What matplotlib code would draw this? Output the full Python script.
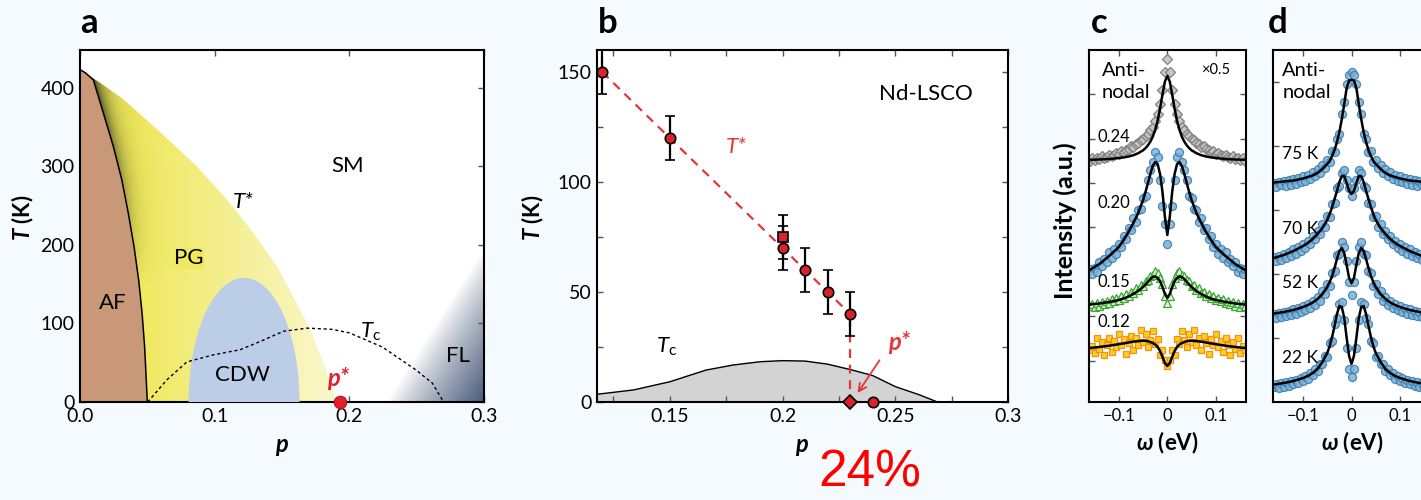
import numpy as np
import matplotlib
matplotlib.use("Agg")
import matplotlib.pyplot as plt
from matplotlib.patches import Polygon, Ellipse

plt.rcParams['font.family'] = ['Lato', 'DejaVu Sans']
plt.rcParams['mathtext.fontset'] = 'custom'
plt.rcParams['mathtext.rm'] = 'Lato'
plt.rcParams['mathtext.it'] = 'Lato:italic'
plt.rcParams['mathtext.bf'] = 'Lato:bold'
plt.rcParams['mathtext.bfit'] = 'Lato:bold:italic'

# ---- panel a: phase diagram boundaries (p, T in K)
af_p = [0.0, 0.004, 0.0099, 0.0173, 0.0248, 0.031, 0.0359, 0.0401, 0.0436, 0.0461, 0.048, 0.050]
af_T = [423, 419, 410, 368, 325, 283, 240, 198, 155, 113, 70, 0]
tstar_p = [0.0, 0.016, 0.0325, 0.0605, 0.0867, 0.109, 0.1288, 0.1461, 0.1597, 0.1721, 0.182, 0.1905]
tstar_T = [423, 405, 385, 342, 300, 258, 215, 173, 130, 88, 45, 0]
tc_p = [0.0503, 0.0644, 0.0793, 0.099, 0.1189, 0.1338, 0.151, 0.1687, 0.1872, 0.2, 0.2245, 0.2493, 0.2617, 0.2700]
tc_T = [0, 28, 51, 60, 66.5, 77, 90, 94, 92.5, 88, 70, 41, 24, 0]
cdw_center, cdw_halfwidth, cdw_top = 0.1218, 0.0412, 158
pstar_a = 0.193

# ---- panel b: Nd-LSCO T* points
b_p = [0.12, 0.15, 0.20, 0.21, 0.22, 0.23]
b_T = [150, 120, 70, 60, 50, 40]
b_err = [10, 10, 10, 10, 10, 10]
sq_p, sq_T, sq_err = [0.20], [75], [10]
b_line_p, b_line_T = [0.12, 0.23], [150, 40]
b_drop_p, b_drop_T = [0.23, 0.23], [38, 0]
diamond_p, dot_p = [0.23], [0.24]
tcb_p = [0.1177, 0.134, 0.15, 0.166, 0.178, 0.19, 0.2, 0.21, 0.22, 0.231, 0.24, 0.25, 0.2606, 0.2687]
tcb_T = [3.5, 5.5, 9.2, 14.5, 16.8, 18.3, 18.8, 18.6, 17.2, 14.5, 12, 7, 3.3, 0]

# ---- panels c, d: symmetrized spectra (omega >= 0 half; mirrored about 0)
w_fit = [0, .005, .01, .015, .02, .025, .03, .035, .04, .045, .05, .06, .07, .08, .09, .10, .12, .14, .16]
c024_fit = [326, 320.5, 307.6, 293.4, 281.3, 272.1, 265.3, 260.4, 256.7, 253.9, 251.7, 248.8, 246.8, 245.5, 244.6, 244, 243, 242.5, 242.2]
c020_fit = [167, 185, 210, 228, 238, 240, 236, 228, 219, 210, 202, 189, 179, 170, 162, 155, 146, 138, 132]
c015_fit = [104, 108, 115, 121, 124, 125.5, 125, 123, 120, 117.5, 115, 111, 108, 105.5, 103.5, 102, 100, 98.5, 97.5]
c012_fit = [36, 39, 45, 51, 55, 57.5, 59, 60, 60.8, 61.2, 61.3, 61, 60.3, 59.5, 58.6, 57.8, 56.3, 55, 54]
d75_fit = [322, 321.5, 314, 298, 283, 270, 260, 252, 246, 241, 238, 233, 229, 226.5, 225, 223.5, 221.5, 220.5, 219.5]
d70_fit = [208, 211, 219, 226, 226, 220, 211, 203, 195, 188, 182, 174, 168, 163, 159, 156, 151, 147, 144]
d52_fit = [119, 124, 137, 149, 154, 151, 143, 134, 126, 120, 115, 108, 103, 99.5, 97, 95, 92, 90, 88.5]
d22_fit = [38, 46, 64, 84, 95, 96, 88, 76, 65, 56, 49, 40, 33, 29, 26, 24, 21, 19, 17.5]

w_pts = np.linspace(0, 0.16, 33)
c024_pts = [343, 330, 312, 298, 288, 281, 275, 272, 268, 266, 263, 262, 259, 258, 255, 256, 253, 252, 250, 251, 248, 249, 247, 246, 247, 245, 244, 246, 243, 244, 242, 244, 241]
c020_pts = [158, 178, 196, 222, 245, 250, 240, 232, 222, 206, 204, 193, 192, 180, 184, 172, 174, 163, 166, 155, 158, 148, 153, 144, 150, 140, 143, 136, 140, 130, 134, 128, 133]
c015_pts = [99, 106, 118, 124, 129, 131, 127, 126, 122, 121, 116, 117, 112, 114, 109, 110, 106, 108, 104, 106, 102, 104, 101, 103, 99, 101, 98, 100, 96, 99, 95, 98, 96]
c012_pts = [36, 42, 52, 47, 63, 58, 71, 62, 55, 68, 60, 72, 57, 64, 52, 66, 59, 48, 63, 57, 68, 55, 61, 50, 64, 57, 47, 60, 53, 64, 49, 56, 52]
d75_pts = [330, 327, 318, 300, 288, 268, 263, 250, 251, 240, 242, 234, 237, 229, 233, 226, 230, 223, 227, 221, 226, 220, 224, 218, 223, 217, 222, 216, 221, 217, 220, 215, 219]
d70_pts = [206, 214, 222, 232, 229, 216, 214, 199, 198, 185, 186, 175, 178, 168, 171, 163, 166, 158, 161, 154, 158, 151, 155, 148, 153, 146, 150, 144, 148, 142, 146, 141, 145]
d52_pts = [107, 120, 141, 155, 160, 148, 147, 131, 129, 116, 118, 108, 111, 101, 105, 97, 101, 94, 98, 92, 96, 90, 94, 88, 93, 87, 91, 86, 90, 85, 89, 84, 88]
d22_pts = [25, 33, 54, 82, 100, 98, 84, 78, 61, 59, 45, 46, 38, 38, 31, 33, 27, 29, 23, 26, 21, 24, 19, 22, 18, 21, 16, 20, 15, 19, 14, 18, 15]


def mirror(w, v):
    w = np.asarray(w, float)
    v = np.asarray(v, float)
    return np.concatenate([-w[:0:-1], w]), np.concatenate([v[:0:-1], v])


W, H = 1421, 500
fig = plt.figure(figsize=(W / 100, H / 100), dpi=100)
bg = '#f4fafd'
fig.patch.set_facecolor(bg)


def box(x0, x1, y0=50, y1=402):
    return [x0 / W, 1 - y1 / H, (x1 - x0) / W, (y1 - y0) / H]


def style(ax, size):
    for s in ax.spines.values():
        s.set_linewidth(1.5)
    ax.tick_params(direction='in', top=True, right=True, length=4, width=1,
                   color='#555555', labelsize=size, pad=4, which='both')


# ================= panel a =================
ax = fig.add_axes(box(80, 484))

pg = Polygon(list(zip(tstar_p, tstar_T)) + list(zip(af_p[::-1], af_T[::-1])),
             closed=True, fc='none', ec='none')
ax.add_patch(pg)
P, T = np.meshgrid(np.linspace(0, 0.2, 400), np.linspace(0, 430, 400))
t = np.clip((P - 0.04) / 0.15, 0, 1)[..., None]
rgb = (1 - t) * np.array([239, 232, 92]) + t * np.array([250, 247, 205])
p_edge = np.interp(T, af_T[::-1], af_p[::-1])
e = np.exp(-np.clip(P - p_edge, 0, None) / 0.007) * np.clip((T - 150) / 270, 0, 1)
rgb = rgb * (1 - e[..., None]) + np.array([70, 70, 28]) * e[..., None]
im = ax.imshow(rgb / 255, extent=[0, 0.2, 0, 430], origin='lower', aspect='auto', zorder=1)
im.set_clip_path(pg)

# Fermi-liquid corner: shading that fades along the diagonal
P2, T2 = np.meshgrid(np.linspace(0.2, 0.3, 200), np.linspace(0, 250, 200))
r = (0.3 - P2) / 0.072 + T2 / 195
rgba = np.zeros(P2.shape + (4,))
rgba[..., :3] = np.array([74, 92, 124]) / 255
rgba[..., 3] = np.clip(1 - r, 0, 1) ** 0.85
ax.imshow(rgba, extent=[0.2, 0.3, 0, 250], origin='lower', aspect='auto', zorder=1)

ax.add_patch(Polygon(list(zip(af_p, af_T)) + [(0, 0)], closed=True,
                     fc='#c99879', ec='none', zorder=2))
ax.plot(af_p, af_T, color='k', lw=1.1, zorder=3)
ax.add_patch(Ellipse((cdw_center, 0), 2 * cdw_halfwidth, 2 * cdw_top,
                     fc='#bccde7', ec='none', zorder=3))
ax.plot(tc_p, tc_T, color='k', lw=1, ls=(0, (2.2, 2)), zorder=4)
ax.plot([pstar_a], [0], 'o', ms=9, mfc='#e2202c', mec='#b5141e', mew=0.8,
        clip_on=False, zorder=6)
ax.set_xlim(0, 0.3)
ax.set_ylim(0, 448)

lab = dict(ha='center', va='center', fontsize=16, zorder=5)
ax.text(0.199, 300, 'SM', **lab)
ax.text(0.121, 255, 'T*', style='italic', **lab)
ax.text(0.081, 183, 'PG', bbox=dict(fc='#f0e862', ec='none', pad=0.5), **lab)
ax.text(0.024, 126, 'AF', **lab)
ax.text(0.1205, 34, 'CDW', **lab)
ax.text(0.216, 89, r'$T_\mathrm{c}$', **lab)
ax.text(0.281, 58, 'FL', **lab)
ax.text(0.192, 30, 'p*', color='#e2202c', style='italic', weight='bold',
        ha='center', va='center', fontsize=17, zorder=5)

ax.set_xticks([0, 0.1, 0.2, 0.3])
ax.set_xticklabels(['0.0', '0.1', '0.2', '0.3'])
ax.set_yticks([0, 100, 200, 300, 400])
style(ax, 14)

# ================= panel b =================
bx = fig.add_axes(box(597, 1008))
bx.set_facecolor('white')
bx.fill_between(tcb_p, tcb_T, 0, color='#d3d3d3', zorder=1)
bx.plot(tcb_p, tcb_T, color='k', lw=1, zorder=2)
bx.plot(b_line_p, b_line_T, color='#e4353a', lw=1.6, ls=(0, (4, 3)), zorder=3)
bx.plot(b_drop_p, b_drop_T, color='#e4353a', lw=1.6, ls=(0, (4, 3)), zorder=3)
mk = dict(ms=7.5, mfc='#d8232b', mec='k', mew=1.2, ecolor='k', elinewidth=1.6,
          capsize=3.5, capthick=1.6, zorder=5)
bx.errorbar(sq_p, sq_T, yerr=sq_err, fmt='s', **mk)
bx.errorbar(b_p, b_T, yerr=b_err, fmt='o', **mk)
bx.plot(diamond_p, [0], 'D', ms=7, mfc='#d8232b', mec='k', mew=1.2, clip_on=False, zorder=6)
bx.plot(dot_p, [0], 'o', ms=7.5, mfc='#d8232b', mec='k', mew=1.2, clip_on=False, zorder=6)
bx.set_xlim(0.1177, 0.3)
bx.set_ylim(0, 160)
bx.text(0.2636, 140, 'Nd-LSCO', ha='center', va='center', fontsize=16)
bx.text(0.1795, 116, 'T*', color='#e4353a', style='italic', ha='center', va='center', fontsize=16)
bx.text(0.1485, 25, r'$T_\mathrm{c}$', ha='center', va='center', fontsize=16)
bx.text(0.2518, 27, 'p*', color='#e4353a', style='italic', weight='bold',
        ha='center', va='center', fontsize=17)
bx.annotate('', xy=(0.2326, 3), xytext=(0.2437, 20),
            arrowprops=dict(arrowstyle='->', color='#e4353a', lw=1.3, mutation_scale=14))
bx.set_xticks([0.15, 0.2, 0.25, 0.3])
bx.set_xticklabels(['0.15', '0.2', '0.25', '0.3'])
bx.set_xticks(np.arange(0.125, 0.3, 0.05), minor=True)
bx.set_yticks([0, 50, 100, 150])
bx.set_yticks([25, 75, 125], minor=True)
style(bx, 14)


# ================= panels c, d =================
def spectra(axs, curves, xlim):
    for fit, pts, m in curves:
        wx, vy = mirror(w_pts, pts)
        axs.plot(wx, vy, ls='none', zorder=2, **m)
        wf, vf = mirror(w_fit, fit)
        axs.plot(wf, vf, color='k', lw=1.8, zorder=3)
    axs.set_xlim(*xlim)
    axs.set_ylim(0, 352)
    axs.set_xticks([-0.1, 0, 0.1])
    axs.set_xticklabels(['\u22120.1', '0', '0.1'])


blue = dict(marker='o', ms=5.8, mfc='#7db1d6', mec='#3479b0', mew=0.9, alpha=0.85)
gray = dict(marker='D', ms=4.6, mfc='#c6c6c6', mec='#7d7d7d', mew=1.0, alpha=0.9)
green = dict(marker='^', ms=5.3, mfc='#dcf5cc', mec='#3aa535', mew=0.9)
orange = dict(marker='s', ms=4.8, mfc='#ffcf1c', mec='#f0901e', mew=0.9)

cx = fig.add_axes(box(1089, 1246))
cx.set_facecolor('white')
spectra(cx, [(c024_fit, c024_pts, gray), (c020_fit, c020_pts, blue),
             (c015_fit, c015_pts, green), (c012_fit, c012_pts, orange)], (-0.1615, 0.1622))
cx.set_yticks([41.5, 86, 130, 175, 219, 263, 308])
cx.set_yticklabels([])
style(cx, 12)
cx.text(-0.1346, 331, 'Anti-', ha='left', va='center', fontsize=14.5)
cx.text(-0.1346, 309, 'nodal', ha='left', va='center', fontsize=14.5)
cx.text(0.1, 332, '\u00d70.5', ha='center', va='center', fontsize=10.5)
for y, s in [(265, '0.24'), (199, '0.20'), (120, '0.15'), (80, '0.12')]:
    cx.text(-0.145, y, s, ha='left', va='center', fontsize=12)

dx = fig.add_axes(box(1273, 1431))
dx.set_facecolor('white')
spectra(dx, [(d75_fit, d75_pts, blue), (d70_fit, d70_pts, blue),
             (d52_fit, d52_pts, blue), (d22_fit, d22_pts, blue)], (-0.162, 0.164))
dx.set_yticks([64, 128, 192, 256, 320])
dx.set_yticklabels([])
style(dx, 12)
dx.text(-0.143, 331, 'Anti-', ha='left', va='center', fontsize=14.5)
dx.text(-0.143, 309, 'nodal', ha='left', va='center', fontsize=14.5)
for y, s in [(248, '75 K'), (173, '70 K'), (119, '52 K'), (44, '22 K')]:
    dx.text(-0.143, y, s, ha='left', va='center', fontsize=12.5)

# ================= figure-level text =================
for x, s in [(80, 'a'), (598, 'b'), (1091, 'c'), (1268, 'd')]:
    fig.text(x / W, 1 - 33 / H, s, fontsize=25, weight='bold', ha='left', va='baseline')

fig.text(23 / W, 1 - 218 / H, r'$\mathbfit{T}$ (K)', rotation=90, ha='center', va='center',
         fontsize=16, weight='bold')
fig.text(533 / W, 1 - 218 / H, r'$\mathbfit{T}$ (K)', rotation=90, ha='center', va='center',
         fontsize=16, weight='bold')
fig.text(1065 / W, 1 - 221 / H, 'Intensity (a.u.)', rotation=90, ha='center', va='center',
         fontsize=18, weight='bold')
fig.text(282 / W, 1 - 447 / H, r'$\mathbfit{p}$', ha='center', va='center', fontsize=17)
fig.text(802 / W, 1 - 448 / H, r'$\mathbfit{p}$', ha='center', va='center', fontsize=17)
for x in (1167, 1352):
    fig.text(x / W, 1 - 443 / H, r'$\mathbfit{\omega}$ (eV)', ha='center', va='center',
             fontsize=16, weight='bold')

fig.text(870 / W, 1 - 473 / H, '24%', color='#ff0000', fontsize=37,
         family='Liberation Sans', ha='center', va='center')

fig.savefig('out.png', dpi=100, facecolor=bg)
